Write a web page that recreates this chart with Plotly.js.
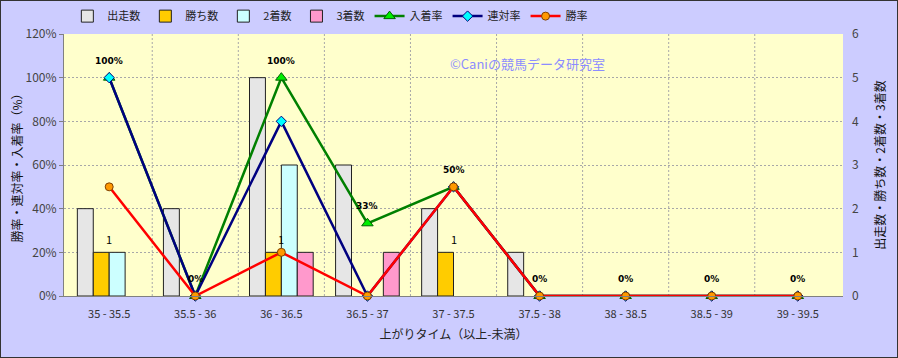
<!DOCTYPE html>
<html><head><meta charset="utf-8">
<script src="https://cdn.plot.ly/plotly-3.0.1.min.js"></script>
<style>
html,body{margin:0;padding:0;background:#CCCCFF;}
#wrap{position:relative;width:898px;height:358px;}
#chart{width:898px;height:358px;}
#border{position:absolute;left:0;top:0;width:896px;height:356px;border:1px solid #333;pointer-events:none;}
</style></head>
<body><div id="wrap"><div id="chart"></div><div id="border"></div></div>
<script>
const categories = ["35 - 35.5","35.5 - 36","36 - 36.5","36.5 - 37","37 - 37.5","37.5 - 38","38 - 38.5","38.5 - 39","39 - 39.5"];
const starts  = [2,2,5,3,2,1,0,0,0];
const wins    = [1,0,1,0,1,0,0,0,0];
const second  = [1,0,3,0,0,0,0,0,0];
const third   = [0,0,1,1,0,0,0,0,0];
const placeRate = [100,0,100,33.3,50,0,0,0,0];
const quinRate  = [100,0,80,0,50,0,0,0,0];
const winRate   = [50,0,20,0,50,0,0,0,0];
const placeLabels = ["100%","0%","100%","33%","50%","0%","0%","0%","0%"];

const font = "'Noto Sans CJK JP', 'Noto Sans', sans-serif";
const nz = a => a.map(v => v === 0 ? null : v);
function bar(name, y, color) {
  return {type:'bar', name, x:categories, y:nz(y), yaxis:'y',
    marker:{color, line:{color:'#222', width:1}}, hoverinfo:'skip'};
}
const traces = [
  bar('出走数', starts, '#E6E6E6'),
  bar('勝ち数', wins, '#FFCC00'),
  bar('2着数', second, '#CCFFFF'),
  bar('3着数', third, '#FF99CC'),
  {type:'scatter', mode:'lines+markers', name:'入着率', x:categories, y:placeRate, yaxis:'y2',
   line:{color:'#008000', width:2.5}, marker:{symbol:'triangle-up', size:10, color:'#00EE00', line:{color:'#006000', width:1}}, cliponaxis:false},
  {type:'scatter', mode:'lines+markers', name:'連対率', x:categories, y:quinRate, yaxis:'y2',
   line:{color:'#000080', width:2.5}, marker:{symbol:'diamond', size:8, color:'#00FFFF', line:{color:'#000080', width:1}}, cliponaxis:false},
  {type:'scatter', mode:'lines+markers', name:'勝率', x:categories, y:winRate, yaxis:'y2',
   line:{color:'#FF0000', width:2.5}, marker:{symbol:'circle', size:8, color:'#FF9900', line:{color:'#804000', width:1}}, cliponaxis:false}
];

const annotations = [{text:'©Caniの競馬データ研究室', xref:'paper', yref:'paper', x:0.595, y:0.93, showarrow:false,
                font:{size:13, color:'#8C8CFF', family:font}}];
categories.forEach((c,i) => {
  annotations.push({text:placeLabels[i], x:c, y:placeRate[i], xref:'x', yref:'y2', showarrow:false, yshift:17,
    font:{size:9, color:'#000', family:'DejaVu Sans', weight:'bold'}});
  if (wins[i] > 0) annotations.push({text:String(wins[i]), x:i, y:wins[i], xref:'x', yref:'y', showarrow:false, yshift:13,
    font:{size:11, color:'#000', family:font}});
});

const layout = {
  width:898, height:358,
  paper_bgcolor:'#CCCCFF', plot_bgcolor:'#FFFFCC',
  margin:{l:64, r:55, t:34, b:62, autoexpand:false},
  font:{family:font, size:11, color:'#333'},
  barmode:'group', bargap:0.26, bargroupgap:0,
  showlegend:true,
  legend:{orientation:'h', xref:'container', yref:'container', x:0.075, xanchor:'left', y:0.955, yanchor:'middle', bgcolor:'rgba(0,0,0,0)',
          font:{size:11, color:'#222', family:font}, traceorder:'normal', itemwidth:30, tracegroupgap:0},
  xaxis:{type:'category', showgrid:false, showline:true, linecolor:'#808080', ticks:'', tickfont:{size:11,color:'#333'},
         ticklabelstandoff:8,
         title:{text:'上がりタイム（以上-未満）', font:{size:12,color:'#222'}, standoff:10}},
  yaxis:{side:'right', range:[0,6], dtick:1, showgrid:true, gridcolor:'#A8A8A8', griddash:'2px,2px', gridwidth:1,
         showline:false, ticks:'', tickfont:{size:12,color:'#444'}, zeroline:false, ticklabelstandoff:8,
         title:{text:'出走数・勝ち数・2着数・3着数', font:{size:12,color:'#111'}, standoff:18}},
  yaxis2:{overlaying:'y', side:'left', range:[0,120], dtick:20, ticksuffix:'%', showgrid:false, zeroline:false,
          showline:true, linecolor:'#808080', ticks:'outside', ticklen:4, tickcolor:'#808080',
          tickfont:{size:12,color:'#444'},
          title:{text:'勝率・連対率・入着率（%）', font:{size:12,color:'#111'}, standoff:0}},
  shapes: categories.slice(1).map((c,i)=>({type:'line', xref:'x', yref:'paper', x0:i+0.5, x1:i+0.5, y0:0, y1:1,
          line:{color:'#A8A8A8', width:1, dash:'2px,2px'}, layer:'below'})),
  annotations
};
Plotly.newPlot('chart', traces, layout, {displayModeBar:false, staticPlot:true});
</script></body></html>
